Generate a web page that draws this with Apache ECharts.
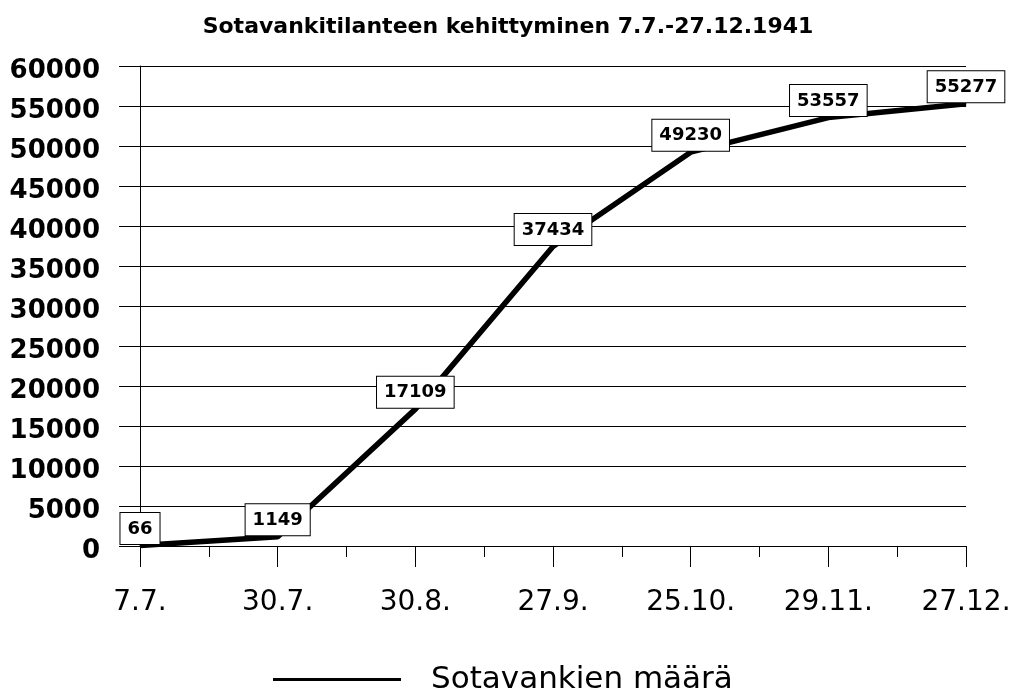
<!DOCTYPE html>
<html>
<head>
<meta charset="utf-8">
<script src="https://cdn.jsdelivr.net/npm/echarts@6/dist/echarts.min.js"></script>
<style>
  html, body { margin: 0; padding: 0; background: #fff; }
  #chart { width: 1016px; height: 699px; }
</style>
</head>
<body>
<div id="chart"></div>
<script>
// päivämäärät (x-akseli)
const dates = ['7.7.', '30.7.', '30.8.', '27.9.', '25.10.', '29.11.', '27.12.']
// sotavankien määrä
const prisoners = [66, 1149, 17109, 37434, 49230, 53557, 55277]
const seriesName = 'Sotavankien määrä'
const titleText = 'Sotavankitilanteen kehittyminen 7.7.-27.12.1941'

const chart = echarts.init(document.getElementById('chart'))

const option = {
  animation: false,
  backgroundColor: '#fff',
  title: {
    text: titleText,
    left: 'center',
    top: 11,
    textStyle: {
      fontFamily: 'DejaVu Sans',
      fontWeight: 'bold',
      fontSize: 22,
      color: '#000'
    }
  },
  legend: {
    top: 659,
    left: 268,
    icon: 'rect',
    itemWidth: 128,
    itemHeight: 3,
    data: [seriesName],
    textStyle: {
      fontFamily: 'DejaVu Sans',
      fontSize: 31,
      color: '#000',
      padding: [0, 0, 0, 25]
    }
  },
  grid: {
    left: 140,
    right: 50,
    top: 66,
    bottom: 153
  },
  xAxis: {
    type: 'value',
    min: 0,
    max: dates.length - 1,
    interval: 1,
    axisLine: { show: true, lineStyle: { color: '#000', width: 1 } },
    axisTick: { show: true, length: 21, lineStyle: { color: '#000' } },
    minorTick: { show: true, splitNumber: 2, length: 11, lineStyle: { color: '#000' } },
    splitLine: { show: false },
    axisLabel: {
      margin: 43,
      fontFamily: 'DejaVu Sans',
      fontSize: 28,
      color: '#000',
      formatter: v => dates[v] || ''
    }
  },
  yAxis: {
    type: 'value',
    min: 0,
    max: 60000,
    interval: 5000,
    axisLine: { show: true, lineStyle: { color: '#000', width: 1 } },
    axisTick: { show: true, length: 21, lineStyle: { color: '#000' } },
    splitLine: { show: true, lineStyle: { color: '#000', width: 1 } },
    axisLabel: {
      margin: 40,
      fontFamily: 'DejaVu Sans',
      fontWeight: 'bold',
      fontSize: 26,
      color: '#000',
      verticalAlign: 'top',
      lineHeight: 10,
      formatter: v => String(v)
    }
  },
  series: [
    {
      name: seriesName,
      type: 'line',
      data: prisoners.map((v, i) => [i, v]),
      showSymbol: true,
      symbol: 'circle',
      symbolSize: 1,
      lineStyle: { color: '#000', width: 5.5 },
      itemStyle: { color: '#000' },
      label: {
        show: true,
        position: 'top',
        distance: 1,
        formatter: p => p.value[1],
        fontFamily: 'DejaVu Sans',
        fontWeight: 'bold',
        fontSize: 18,
        lineHeight: 18,
        color: '#000',
        backgroundColor: '#fff',
        borderColor: '#000',
        borderWidth: 1,
        padding: [7, 7, 6, 7]
      }
    }
  ]
}

chart.setOption(option)
</script>
</body>
</html>
